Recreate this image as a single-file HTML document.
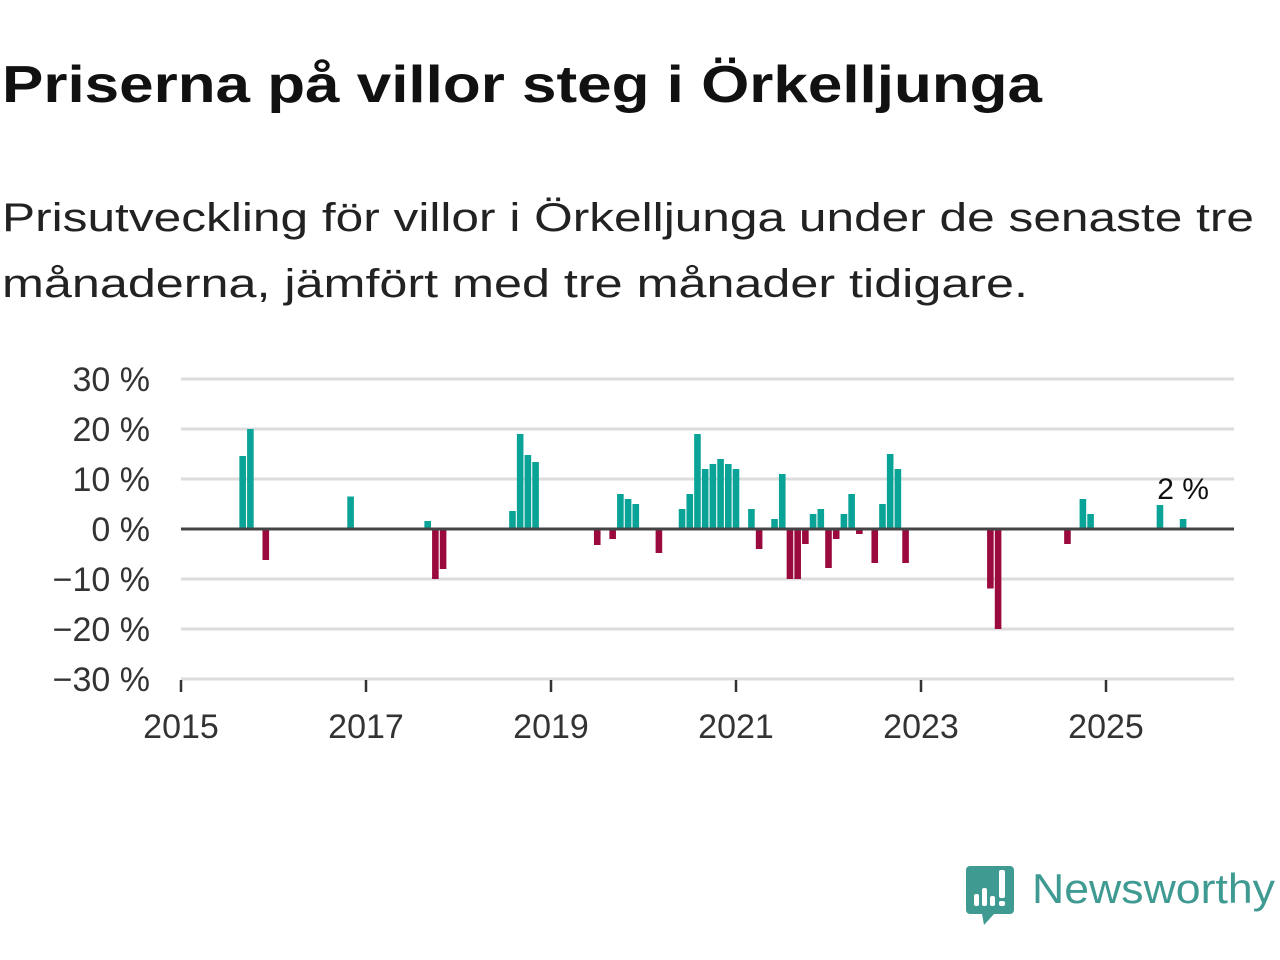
<!DOCTYPE html>
<html><head><meta charset="utf-8">
<style>
html,body{margin:0;padding:0;background:#fff;width:1280px;height:960px;overflow:hidden}
svg{display:block}
text{font-family:"Liberation Sans",sans-serif}
</style></head>
<body>
<svg id="chart" width="1280" height="960" viewBox="0 0 1280 960">
  <text x="2" y="102" font-size="52" font-weight="bold" fill="#111" textLength="1040" lengthAdjust="spacingAndGlyphs">Priserna på villor steg i Örkelljunga</text>
  <text x="2" y="231" font-size="40" fill="#222" textLength="1252" lengthAdjust="spacingAndGlyphs">Prisutveckling för villor i Örkelljunga under de senaste tre</text>
  <text x="2" y="297" font-size="40" fill="#222" textLength="1026" lengthAdjust="spacingAndGlyphs">månaderna, jämfört med tre månader tidigare.</text>
  <g id="grid"></g>
  <g id="bars"></g>
  <g id="axes"></g>
  <g>
    <path d="M970 866 h40 a4 4 0 0 1 4 4 v40 a4 4 0 0 1 -4 4 h-16 l-10 11 l-2 -11 h-12 a4 4 0 0 1 -4 -4 v-40 a4 4 0 0 1 4 -4z" fill="#3f9a92"/>
    <rect x="974" y="894" width="5" height="12" rx="2" fill="#fff"/>
    <rect x="982" y="888" width="5" height="18" rx="2" fill="#fff"/>
    <rect x="990" y="896" width="5" height="10" rx="2" fill="#fff"/>
    <rect x="999" y="870" width="6" height="28" rx="2" fill="#fff"/>
    <rect x="999" y="901" width="6" height="5" rx="2" fill="#fff"/>
    <text x="1032" y="903" font-size="42" fill="#3f9a92" textLength="243" lengthAdjust="spacingAndGlyphs">Newsworthy</text>
  </g>
</svg>
<script>
// months since Jan 2015
const months = [8,9,11,22,32,33,34,43,44,45,46,54,56,57,58,59,62,65,66,67,68,69,70,71,72,74,75,77,78,79,80,81,82,83,84,85,86,87,88,90,91,92,93,94,105,106,115,117,118,127,130];
const values = [14.6,20,-6.2,6.5,1.6,-10,-8,3.6,19,14.8,13.4,-3.2,-2,7,6,5,-4.8,4,7,19,12,13,14,13,12,4,-4,2,11,-10,-10,-3,3,4,-7.8,-2,3,7,-1,-6.8,5,15,12,-6.8,-11.9,-20,-3,6,3,4.8,2];
const yTicks = [30,20,10,0,-10,-20,-30];
const yTickLabels = ["30 %","20 %","10 %","0 %","−10 %","−20 %","−30 %"];
const xTicks = [2015,2017,2019,2021,2023,2025];
const lastLabel = "2 %";

const NS = "http://www.w3.org/2000/svg";
const x0 = 181, pxYear = 92.5, xEnd = 1234;
const xScale = d => x0 + (d - 2015) * pxYear;
const xMonth = m => xScale(2015 + m / 12);
const yScale = v => 529 - v * 5;
function mk(tag, attrs, parent){const e=document.createElementNS(NS,tag);for(const k in attrs)e.setAttribute(k,attrs[k]);parent.appendChild(e);return e;}
const grid=document.getElementById('grid'), bars=document.getElementById('bars'), axes=document.getElementById('axes');

yTicks.forEach((t,i)=>{
  if(t!==0){
    const l=mk('line',{x1:x0,x2:xEnd,y1:yScale(t),y2:yScale(t),stroke:'#dcdcdc','stroke-width':3},grid);
    
    
  }
  const tx=mk('text',{x:150,y:yScale(t)+12,'font-size':34,'text-anchor':'end',fill:'#333'},axes);
  tx.textContent=yTickLabels[i];
  
  
});
xTicks.forEach(t=>{
  const x=xScale(t);
  const tk=mk('line',{x1:x,x2:x,y1:680,y2:692,stroke:'#333','stroke-width':2.5},axes);
  
  
  const tx=mk('text',{x:x,y:738,'font-size':34,'text-anchor':'middle',fill:'#333'},axes);
  tx.textContent=t;
  
  
});
months.forEach((m,i)=>{
  const v=values[i], c=xMonth(m);
  const y=v>=0?yScale(v):yScale(0), h=Math.abs(yScale(v)-yScale(0));
  const r=mk('rect',{x:c-3.3,y:y,width:6.6,height:h,fill:v>=0?'#0aa397':'#9b0a3e'},bars);
  
  
});
const zl=mk('line',{x1:x0,x2:xEnd,y1:yScale(0),y2:yScale(0),stroke:'#444','stroke-width':3},axes);


const li=months.length-1;
const lab=mk('text',{x:xMonth(months[li]),y:yScale(values[li])-20,'font-size':30,'text-anchor':'middle',fill:'#111'},axes);
lab.textContent=lastLabel;


</script>
</body></html>
